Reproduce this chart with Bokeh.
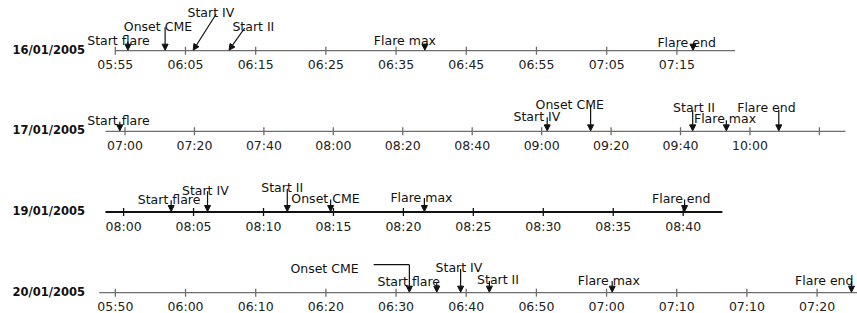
from bokeh.plotting import figure
from bokeh.models import Range1d, ColumnDataSource, Arrow, NormalHead
from bokeh.core.properties import value
from bokeh.embed import file_html
from bokeh.resources import INLINE

# ---------------- data (times in minutes after midnight) ----------------
DATES = ["16/01/2005", "17/01/2005", "19/01/2005", "20/01/2005"]

TICKS_16 = [355, 365, 375, 385, 395, 405, 415, 425, 435]
LABELS_16 = ["05:55", "06:05", "06:15", "06:25", "06:35", "06:45", "06:55", "07:05", "07:15"]
TICKS_17 = [420, 440, 460, 480, 500, 520, 540, 560, 580, 600, 620]
LABELS_17 = ["07:00", "07:20", "07:40", "08:00", "08:20", "08:40", "09:00", "09:20", "09:40", "10:00", ""]
TICKS_19 = [480, 485, 490, 495, 500, 505, 510, 515, 520]
LABELS_19 = ["08:00", "08:05", "08:10", "08:15", "08:20", "08:25", "08:30", "08:35", "08:40"]
TICKS_20 = [350, 360, 370, 380, 390, 400, 410, 420, 430, 440, 450]
LABELS_20 = ["05:50", "06:00", "06:10", "06:20", "06:30", "06:40", "06:50", "07:00", "07:10", "07:10", "07:20"]

AXIS_START = [355.0, 414.4, 478.7, 347.7]
AXIS_END = [443.3, 627.5, 522.8, 460.0]

EVENTS_16 = ["Start flare", "Onset CME", "Start IV", "Start II", "Flare max", "Flare end"]
TIMES_16 = [356.8, 362.1, 366.1, 371.2, 399.1, 437.3]
EVENTS_17 = ["Start flare", "Start IV", "Onset CME", "Start II", "Flare max", "Flare end"]
TIMES_17 = [418.5, 541.6, 554.1, 583.5, 593.2, 608.3]
EVENTS_19 = ["Start flare", "Start IV", "Start II", "Onset CME", "Flare max", "Flare end"]
TIMES_19 = [483.4, 486.0, 491.7, 494.8, 501.5, 520.1]
EVENTS_20 = ["Onset CME", "Start flare", "Start IV", "Start II", "Flare max", "Flare end"]
TIMES_20 = [391.9, 395.8, 399.2, 403.3, 420.8, 454.9]

# ---------------- layout (pixels / ranges) ----------------
W, H = 857, 313
X_RANGES = [(338.65, 460.73), (384.14, 630.97), (471.20, 532.46), (333.63, 455.76)]
Y_BOTTOM, Y_TOP = 3.2585, -0.6224
PXR = H / (Y_BOTTOM - Y_TOP)  # pixels per row unit

# label dx, label baseline height, arrow tail dx, arrow tail height, kind
LAY_16 = [(-40.7, 10, 0, 9, "v"), (-41.3, 24, 0, 23.4, "v"), (-5.7, 38.4, 23, 36.7, "v"),
          (3.4, 24, 15.7, 22.7, "v"), (-51, 10, 0, 7, "v"), (-35.6, 7.7, 0, 6.5, "v")]
LAY_17 = [(-32.6, 10.5, 0, 9.5, "v"), (-33.7, 15.2, 0, 14.2, "v"), (-55, 27.2, 0, 26.2, "v"),
          (-19.6, 23.5, 0, 21.2, "v"), (-32.4, 12.8, 0, 11.2, "v"), (-41.6, 23.5, 0, 21.5, "v")]
LAY_19 = [(-33.4, 12.7, 0, 11.7, "v"), (-25.6, 21.7, 0, 20.7, "v"), (-26, 25, 0, 23.3, "v"),
          (-39.3, 13.3, 0, 12.5, "v"), (-34, 15, 0, 14, "v"), (-32.6, 13.3, 0, 12.5, "v")]
LAY_20 = [(-119, 24.4, -35.7, 28, "elbow"), (-59.3, 11, 0, 10.4, "v"), (-25, 24.7, 0, 23.7, "v"),
          (-12.3, 13, 0, 11.7, "v"), (-34.4, 12.4, 0, 11.7, "v"), (-56.4, 12.4, 0, 11.7, "v")]

ROWS = [
    (TICKS_16, LABELS_16, EVENTS_16, TIMES_16, LAY_16),
    (TICKS_17, LABELS_17, EVENTS_17, TIMES_17, LAY_17),
    (TICKS_19, LABELS_19, EVENTS_19, TIMES_19, LAY_19),
    (TICKS_20, LABELS_20, EVENTS_20, TIMES_20, LAY_20),
]
LINE_COLORS = ["#6e6e6e", "#6e6e6e", "#111111", "#6e6e6e"]
LINE_WIDTHS = [1.3, 1.3, 2.0, 1.3]
FONT = value("DejaVu Sans")

p = figure(width=W, height=H, x_range=Range1d(0, 1), y_range=Range1d(Y_BOTTOM, Y_TOP),
           x_axis_location=None, y_axis_location=None, output_backend="svg",
           toolbar_location=None, min_border=0, outline_line_color=None,
           background_fill_color="white", border_fill_color="white")
p.grid.visible = False

for i, (ticks, labels, events, times, lay) in enumerate(ROWS):
    name = f"row{i}"
    p.extra_x_ranges[name] = Range1d(*X_RANGES[i])
    ppm = W / (X_RANGES[i][1] - X_RANGES[i][0])
    n = len(ticks)

    # date label
    p.text(x=[0], y=[i - 1 / PXR], text=[DATES[i]], x_offset=12, text_font=FONT,
           text_font_size="11.5px", text_font_style="bold", text_color="#111111",
           text_align="left", text_baseline="alphabetic")

    # time axis
    p.segment(x0=[AXIS_START[i]], y0=[i], x1=[AXIS_END[i]], y1=[i], x_range_name=name,
              line_color=LINE_COLORS[i], line_width=LINE_WIDTHS[i])
    p.segment(x0=ticks, y0=[i - 4 / PXR] * n, x1=ticks, y1=[i + 4 / PXR] * n, x_range_name=name,
              line_color=LINE_COLORS[i], line_width=1.3)
    p.text(x=ticks, y=[i + 14 / PXR] * n, text=labels, x_range_name=name, text_font=FONT,
           text_font_size="12.5px", text_color="#222222", text_align="center",
           text_baseline="alphabetic")

    # events
    xs, ys, xe, ye = [], [], [], []
    for ev, t, (ldx, ldy, tdx, tdy, kind) in zip(events, times, lay):
        p.text(x=[t], y=[i - ldy / PXR], text=[ev], x_offset=ldx, x_range_name=name,
               text_font=FONT, text_font_size="12.5px", text_color="#111111",
               text_align="left", text_baseline="alphabetic")
        if kind == "elbow":
            p.segment(x0=[t + tdx / ppm], y0=[i - tdy / PXR], x1=[t], y1=[i - tdy / PXR],
                      x_range_name=name, line_color="#111111", line_width=1.2)
            xs.append(t)
        else:
            xs.append(t + tdx / ppm)
        ys.append(i - tdy / PXR)
        xe.append(t)
        ye.append(i - 0.5 / PXR)
    src = ColumnDataSource(dict(xs=xs, ys=ys, xe=xe, ye=ye))
    arr = Arrow(x_start="xs", y_start="ys", x_end="xe", y_end="ye", source=src,
                end=NormalHead(size=6, fill_color="#111111", line_color="#111111", line_width=1),
                line_color="#111111", line_width=1.2, x_range_name=name)
    p.add_layout(arr)

open("out.html", "w").write(file_html(p, INLINE))
